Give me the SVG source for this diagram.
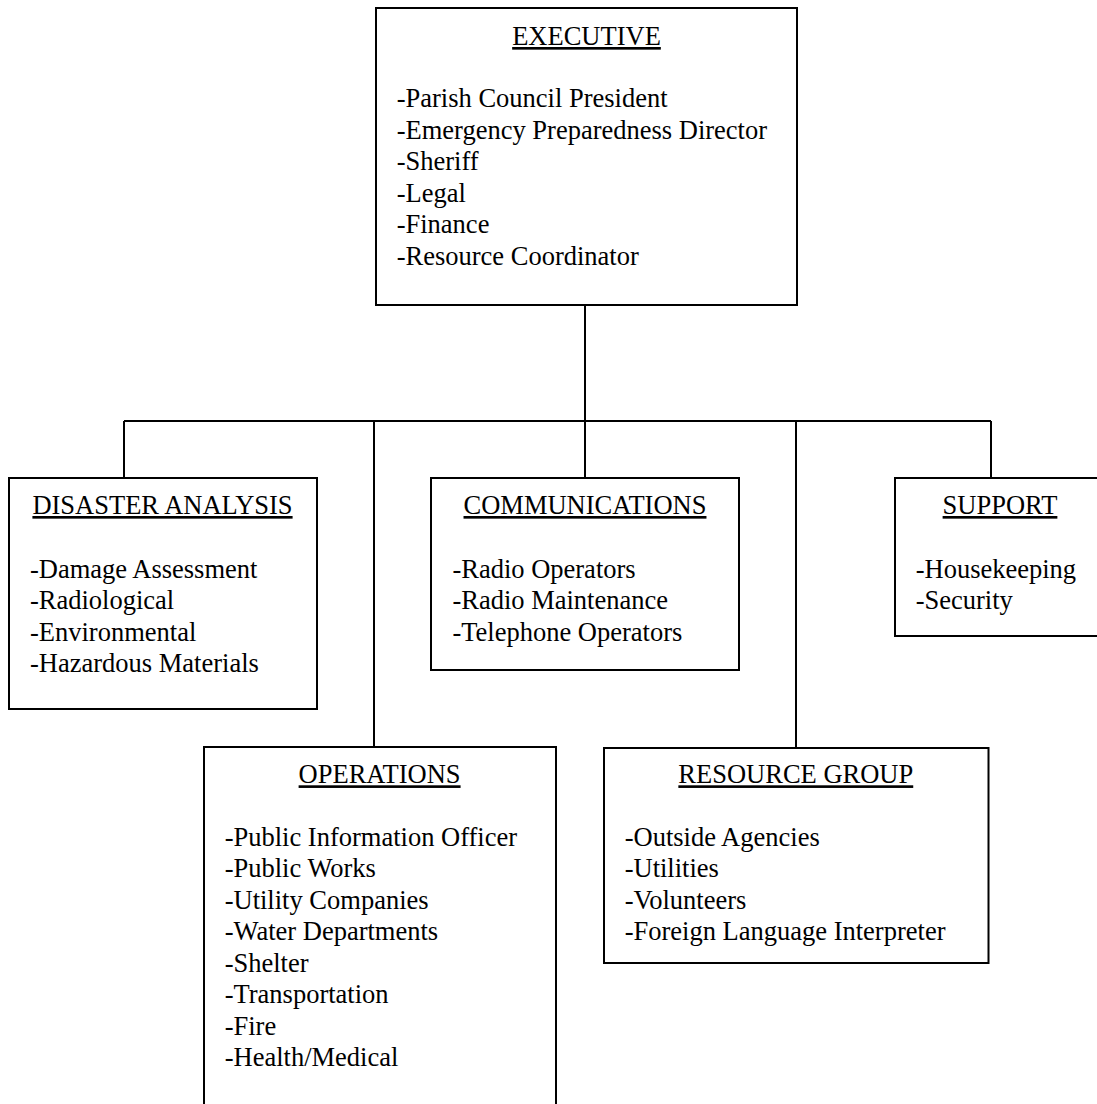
<svg xmlns="http://www.w3.org/2000/svg" width="1097" height="1104" viewBox="0 0 1097 1104">
  <style>
    .box { fill: #ffffff; stroke: #000000; stroke-width: 2; }
    .wire { fill: none; stroke: #000000; stroke-width: 2; }
    text { font-family: "Liberation Serif", "Times New Roman", serif; font-size: 26.5px; fill: #000000; }
    .title { text-anchor: middle; text-decoration: underline; }
  </style>
  <rect width="1097" height="1104" fill="#ffffff"/>

  <!-- reporting lines -->
  <g id="connectors">
    <path class="wire" d="M585 305 V421"/>
    <path class="wire" d="M124 421 H991"/>
    <path class="wire" d="M124 421 V478"/>
    <path class="wire" d="M374 421 V747"/>
    <path class="wire" d="M585 421 V478"/>
    <path class="wire" d="M796 421 V748"/>
    <path class="wire" d="M991 421 V478"/>
  </g>

  <g id="executive">
    <rect class="box" x="376" y="8" width="421" height="297"/>
    <text class="title" x="586.5" y="45">EXECUTIVE</text>
    <text x="396.7" y="107.3">
      <tspan x="396.7">-Parish Council President</tspan>
      <tspan x="396.7" dy="31.5">-Emergency Preparedness Director</tspan>
      <tspan x="396.7" dy="31.5">-Sheriff</tspan>
      <tspan x="396.7" dy="31.5">-Legal</tspan>
      <tspan x="396.7" dy="31.5">-Finance</tspan>
      <tspan x="396.7" dy="31.5">-Resource Coordinator</tspan>
    </text>
  </g>

  <g id="disaster-analysis">
    <rect class="box" x="9" y="478" width="308" height="231"/>
    <text class="title" x="162.5" y="514">DISASTER ANALYSIS</text>
    <text x="30" y="577.7">
      <tspan x="30">-Damage Assessment</tspan>
      <tspan x="30" dy="31.5">-Radiological</tspan>
      <tspan x="30" dy="31.5">-Environmental</tspan>
      <tspan x="30" dy="31.5">-Hazardous Materials</tspan>
    </text>
  </g>

  <g id="communications">
    <rect class="box" x="431" y="478" width="308" height="192"/>
    <text class="title" x="585" y="514">COMMUNICATIONS</text>
    <text x="452.4" y="577.7">
      <tspan x="452.4">-Radio Operators</tspan>
      <tspan x="452.4" dy="31.5">-Radio Maintenance</tspan>
      <tspan x="452.4" dy="31.5">-Telephone Operators</tspan>
    </text>
  </g>

  <g id="support">
    <rect class="box" x="895" y="478" width="220" height="158"/>
    <text class="title" x="1000" y="514">SUPPORT</text>
    <text x="915.7" y="577.7">
      <tspan x="915.7">-Housekeeping</tspan>
      <tspan x="915.7" dy="31.5">-Security</tspan>
    </text>
  </g>

  <g id="operations">
    <rect class="box" x="204" y="747" width="352" height="400"/>
    <text class="title" x="379.6" y="783.3">OPERATIONS</text>
    <text x="224.7" y="845.7">
      <tspan x="224.7">-Public Information Officer</tspan>
      <tspan x="224.7" dy="31.5">-Public Works</tspan>
      <tspan x="224.7" dy="31.5">-Utility Companies</tspan>
      <tspan x="224.7" dy="31.5">-Water Departments</tspan>
      <tspan x="224.7" dy="31.5">-Shelter</tspan>
      <tspan x="224.7" dy="31.5">-Transportation</tspan>
      <tspan x="224.7" dy="31.5">-Fire</tspan>
      <tspan x="224.7" dy="31.5">-Health/Medical</tspan>
    </text>
  </g>

  <g id="resource-group">
    <rect class="box" x="604" y="748" width="384.5" height="215"/>
    <text class="title" x="795.8" y="783.3">RESOURCE GROUP</text>
    <text x="624.7" y="845.7">
      <tspan x="624.7">-Outside Agencies</tspan>
      <tspan x="624.7" dy="31.5">-Utilities</tspan>
      <tspan x="624.7" dy="31.5">-Volunteers</tspan>
      <tspan x="624.7" dy="31.5">-Foreign Language Interpreter</tspan>
    </text>
  </g>
</svg>
